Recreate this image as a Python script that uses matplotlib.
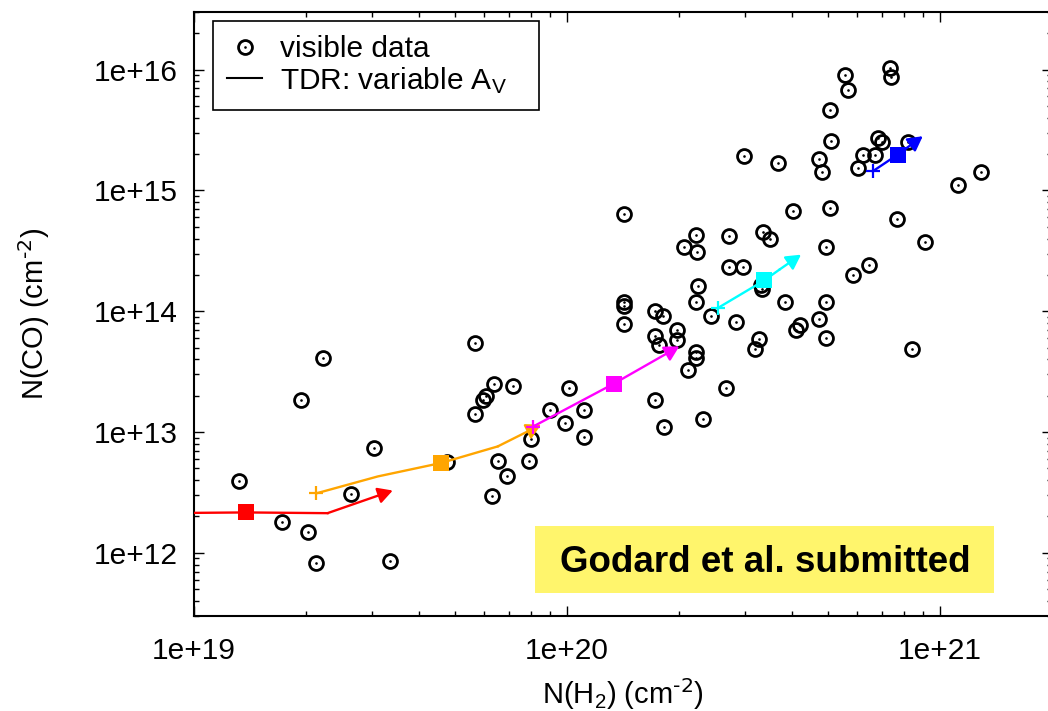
import matplotlib.pyplot as plt
import numpy as np
from matplotlib.legend_handler import HandlerTuple
from matplotlib.lines import Line2D
from matplotlib.patches import Rectangle
from matplotlib.ticker import FuncFormatter, NullFormatter, LogLocator

plt.rcParams['font.family'] = ['Liberation Sans', 'DejaVu Sans']
plt.rcParams['mathtext.default'] = 'regular'

#-observed column densities (cm^-2)----------------
nh2 = [1.32e19, 2.22e19, 1.94e19, 3.03e19, 1.72e19, 2.02e19, 2.13e19, 2.64e19,
       3.35e19, 4.77e19, 5.65e19, 6.37e19, 6.08e19, 5.95e19, 7.17e19, 5.68e19,
       6.54e19, 6.89e19, 6.28e19, 7.91e19, 8.01e19, 9.00e19, 9.90e19, 1.01e20,
       1.11e20, 1.11e20, 1.42e20, 1.42e20, 1.42e20, 1.72e20, 1.81e20, 1.72e20,
       1.76e20, 1.97e20, 1.97e20, 2.22e20, 2.22e20, 2.11e20, 2.43e20, 2.83e20,
       3.28e20, 3.19e20, 4.11e20, 4.21e20, 4.74e20, 4.96e20, 8.41e20, 2.67e20,
       1.72e20, 1.82e20, 2.32e20, 2.22e20, 3.85e20, 4.96e20, 5.56e20, 5.68e20,
       7.33e20, 7.38e20, 5.06e20, 5.10e20, 6.83e20, 6.99e20, 8.19e20, 6.23e20,
       6.69e20, 6.04e20, 4.75e20, 4.84e20, 2.99e20, 3.67e20, 1.12e21, 1.29e21,
       1.42e20, 4.04e20, 5.06e20, 7.67e20, 2.22e20, 2.06e20, 2.23e20, 2.72e20,
       3.35e20, 3.51e20, 4.96e20, 9.10e20, 2.72e20, 2.97e20, 5.83e20, 6.46e20,
       2.24e20, 3.32e20, 3.33e20]
nco = [3.9e12, 4.07e13, 1.83e13, 7.41e12, 1.80e12, 1.49e12, 8.3e11, 3.08e12,
       8.6e11, 5.60e12, 5.42e13, 2.51e13, 2.00e13, 1.83e13, 2.39e13, 1.41e13,
       5.71e12, 4.29e12, 2.98e12, 5.71e12, 8.68e12, 1.51e13, 1.19e13, 2.30e13,
       1.51e13, 9.02e12, 1.20e14, 1.11e14, 7.85e13, 9.98e13, 9.07e13, 6.19e13,
       5.29e13, 6.95e13, 5.74e13, 4.57e13, 4.10e13, 3.28e13, 9.07e13, 8.09e13,
       5.93e13, 4.87e13, 7.04e13, 7.74e13, 8.68e13, 6.01e13, 4.90e13, 2.30e13,
       1.83e13, 1.11e13, 1.29e13, 1.19e14, 1.19e14, 1.19e14, 8.95e15, 6.82e15,
       1.03e16, 8.62e15, 4.59e15, 2.58e15, 2.73e15, 2.51e15, 2.51e15, 1.95e15,
       1.95e15, 1.54e15, 1.83e15, 1.42e15, 1.92e15, 1.70e15, 1.10e15, 1.43e15,
       6.35e14, 6.82e14, 7.12e14, 5.77e14, 4.29e14, 3.38e14, 3.10e14, 4.17e14,
       4.51e14, 3.99e14, 3.38e14, 3.72e14, 2.31e14, 2.31e14, 2.00e14, 2.40e14,
       1.61e14, 1.65e14, 1.54e14]

#-TDR tracks: start (+), square, ..., arrow tip------
red_x = [8.0e18, 1.379e19, 2.28e19, 3.41e19]
red_y = [2.13e12, 2.16e12, 2.13e12, 3.28e12]
orange_x = [2.13e19, 3.11e19, 4.59e19, 6.52e19, 8.52e19]
orange_y = [3.11e12, 4.29e12, 5.54e12, 7.60e12, 1.15e13]
magenta_x = [8.11e19, 1.334e20, 2.00e20]
magenta_y = [1.11e13, 2.51e13, 5.12e13]
cyan_x = [2.54e20, 3.38e20, 3.71e20, 4.24e20]
cyan_y = [1.065e14, 1.80e14, 2.21e14, 2.94e14]
blue_x = [6.60e20, 7.70e20, 8.99e20]
blue_y = [1.44e15, 1.98e15, 2.81e15]
square_idx = [1, 2, 1, 1, 1]
tracks = [(red_x, red_y, '#ff0000'), (orange_x, orange_y, '#ffa500'),
          (magenta_x, magenta_y, '#ff00ff'), (cyan_x, cyan_y, '#00ffff'),
          (blue_x, blue_y, '#0000ff')]
#--------------------------------------------------

fig = plt.figure(figsize=(10.48, 7.11), dpi=100)
ax = fig.add_axes([194 / 1048, 1 - 616 / 711, 858.3 / 1048, 604 / 711])

ax.plot(nh2, nco, ls='none', marker='o', ms=10, mfc='none', mec='k', mew=2.0, zorder=2)
ax.plot(nh2, nco, ls='none', marker='o', ms=1.9, mfc='k', mec='k', mew=0, zorder=2)

for (tx, ty, c), si in zip(tracks, square_idx):
    ax.plot(tx[:-1], ty[:-1], color=c, lw=1.7, zorder=3)
    ax.annotate('', xy=(tx[-1], ty[-1]), xytext=(tx[-2], ty[-2]),
                arrowprops=dict(arrowstyle='-|>,head_length=0.4,head_width=0.22',
                                color=c, lw=1.7, shrinkA=0, shrinkB=0,
                                mutation_scale=22), zorder=3)
    ax.plot(tx[0], ty[0], ls='none', marker='+', ms=10, mew=1.6, color=c, zorder=4)
    ax.plot(tx[si], ty[si], ls='none', marker='s', ms=11.3, mew=0, color=c, zorder=4)

ax.set_xscale('log')
ax.set_yscale('log')
ax.set_xlim(1e19, 2e21)
ax.set_ylim(3e11, 3e16)

fmt = FuncFormatter(lambda v, p: '1e+%d' % int(round(np.log10(v))))
ax.xaxis.set_major_formatter(fmt)
ax.yaxis.set_major_formatter(fmt)
ax.xaxis.set_minor_formatter(NullFormatter())
ax.yaxis.set_minor_formatter(NullFormatter())
ax.xaxis.set_minor_locator(LogLocator(subs=np.arange(2, 10), numticks=20))
ax.yaxis.set_minor_locator(LogLocator(subs=np.arange(2, 10), numticks=20))

ax.tick_params(which='both', direction='in', top=True, right=True, width=1.0, labelsize=21.5)
ax.tick_params(which='major', length=7)
ax.tick_params(which='minor', length=3.6)
ax.tick_params(axis='x', pad=15)
ax.tick_params(axis='y', pad=12)
for s in ax.spines.values():
    s.set_linewidth(1.5)

ax.set_xlabel(r'N(H$_2$) (cm$^{\text{-2}}$)', fontsize=21, va='center')
ax.set_ylabel(r'N(CO) (cm$^{\text{-2}}$)', fontsize=21, va='center')
ax.xaxis.set_label_coords(0.5, (616 - 694) / 604)
ax.yaxis.set_label_coords((34 - 194) / 858.3, 0.5)

h_circ = Line2D([], [], ls='none', marker='o', ms=10, mfc='none', mec='k', mew=2.0)
h_dot = Line2D([], [], ls='none', marker='o', ms=1.9, mfc='k', mec='k', mew=0)
h_line = Line2D([], [], color='k', lw=1.5)
leg = ax.legend([(h_circ, h_dot), h_line], ['visible data', 'TDR: variable A$_V$'],
                handler_map={tuple: HandlerTuple()}, loc='upper left',
                bbox_to_anchor=(19 / 858.3, 0, 326 / 858.3, 1 - 9 / 604), mode='expand',
                borderaxespad=0, fontsize=21.5, handlelength=1.15, handletextpad=0.62,
                borderpad=0.48, labelspacing=0.05, fancybox=False, framealpha=1)
leg.get_frame().set_edgecolor('k')
leg.get_frame().set_linewidth(1.2)

ax.add_patch(Rectangle((0.3973, 0.0381), 0.5348, 0.1109, transform=ax.transAxes,
                       facecolor='#fff56c', edgecolor='none', zorder=5))
ax.text(0.6653, 0.0733, 'Godard et al. submitted', transform=ax.transAxes,
        ha='center', va='baseline', fontsize=26.5, fontweight='bold', zorder=6)

fig.savefig('out.png', dpi=100)
